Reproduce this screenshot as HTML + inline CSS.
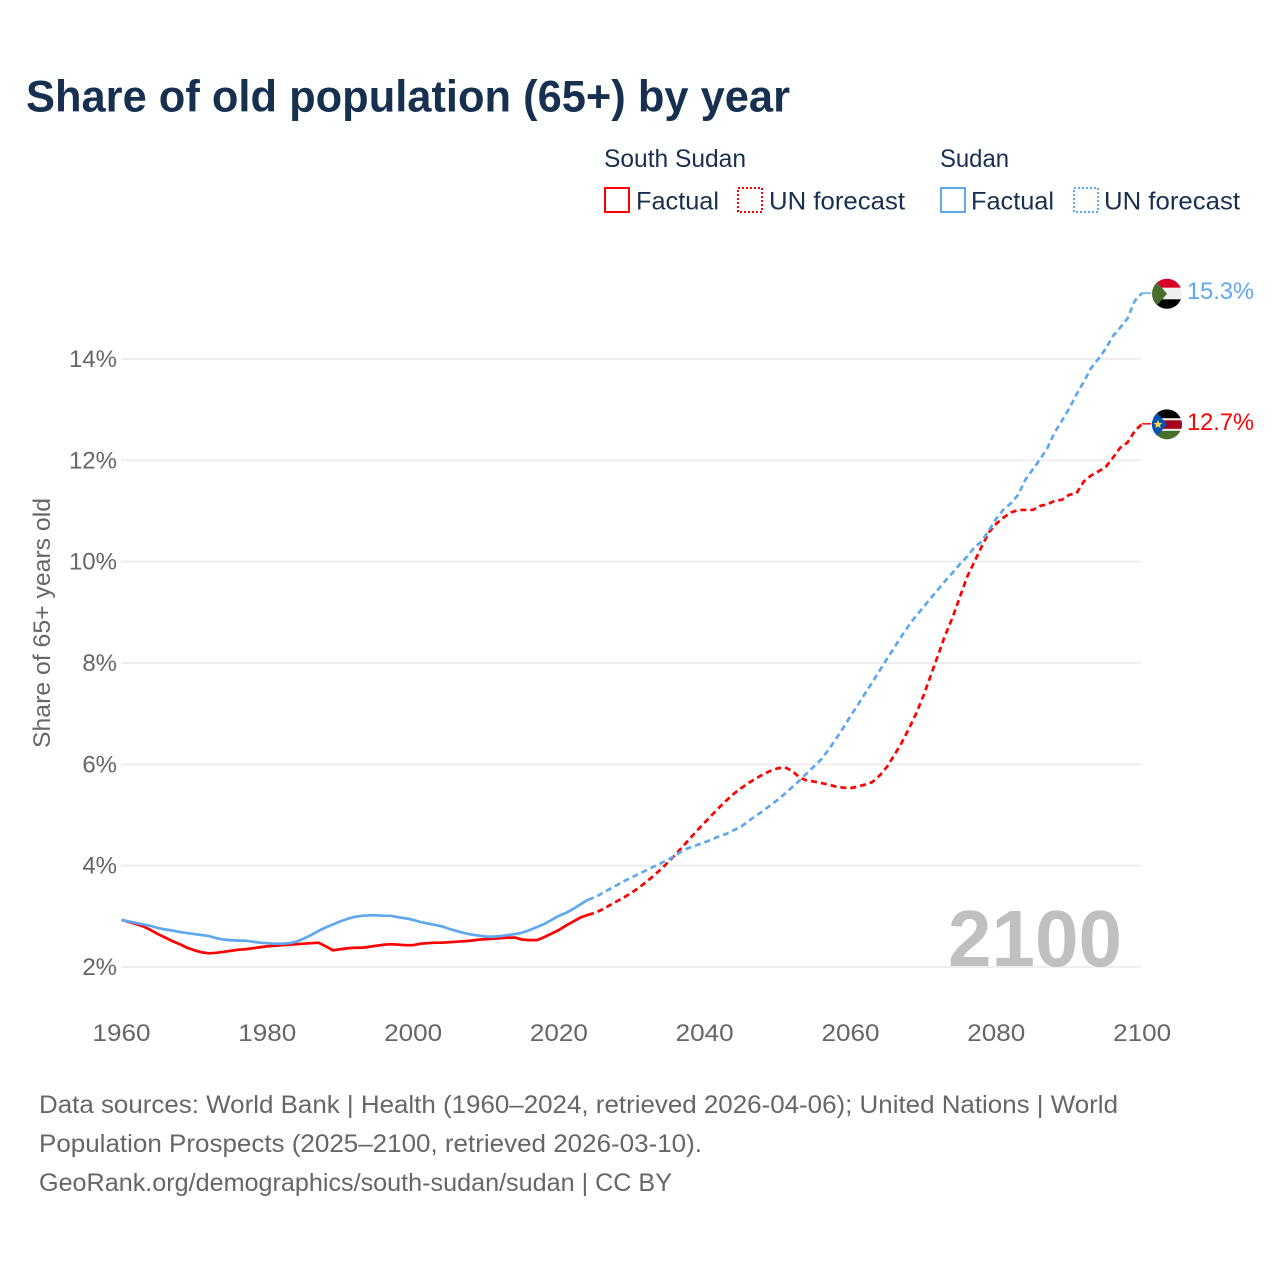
<!DOCTYPE html>
<html lang="en">
<head>
<meta charset="utf-8">
<title>Share of old population (65+) by year</title>
<style>
html,body{margin:0;padding:0;background:#fff;}
svg{display:block;font-family:"Liberation Sans",sans-serif;}
</style>
</head>
<body>
<svg id="chart" xmlns="http://www.w3.org/2000/svg" width="1280" height="1280" viewBox="0 0 1280 1280">
  <rect x="0" y="0" width="1280" height="1280" fill="#fff"/>
  <text x="26" y="111.5" font-size="44.5" font-weight="700" fill="#18304f" textLength="764" lengthAdjust="spacingAndGlyphs">Share of old population (65+) by year</text>

  <g font-size="25" fill="#18304f">
    <text x="604" y="167" textLength="142" lengthAdjust="spacingAndGlyphs">South Sudan</text>
    <text x="940" y="167" textLength="69" lengthAdjust="spacingAndGlyphs">Sudan</text>
    <rect x="605" y="188" width="24" height="24" fill="none" stroke="#ff0000" stroke-width="2"/>
    <text x="636" y="209.5" textLength="83" lengthAdjust="spacingAndGlyphs">Factual</text>
    <rect x="738" y="188" width="24" height="24" fill="none" stroke="#ff0000" stroke-width="2" stroke-dasharray="2 2"/>
    <text x="769" y="209.5" textLength="136" lengthAdjust="spacingAndGlyphs">UN forecast</text>
    <rect x="941" y="188" width="24" height="24" fill="none" stroke="#5fa8ee" stroke-width="2"/>
    <text x="971" y="209.5" textLength="83" lengthAdjust="spacingAndGlyphs">Factual</text>
    <rect x="1074" y="188" width="24" height="24" fill="none" stroke="#5fa8ee" stroke-width="2" stroke-dasharray="2 2"/>
    <text x="1104" y="209.5" textLength="136" lengthAdjust="spacingAndGlyphs">UN forecast</text>
  </g>

  <g id="grid"></g>
  <text x="948" y="966" font-size="80" font-weight="700" fill="#c0c0c0" textLength="174" lengthAdjust="spacingAndGlyphs">2100</text>
  <g id="yLabels" font-size="24" fill="#666"></g>
  <g id="xLabels" font-size="24" fill="#666"></g>
  <text transform="translate(50,748) rotate(-90)" font-size="24" fill="#666" textLength="250" lengthAdjust="spacingAndGlyphs">Share of 65+ years old</text>
  <g id="series"></g>

  <defs>
    <clipPath id="clipSudan"><circle cx="1167" cy="292.5" r="15"/></clipPath>
    <clipPath id="clipSouth"><circle cx="1167" cy="424.5" r="15"/></clipPath>
  </defs>
  <g id="flagSudan" clip-path="url(#clipSudan)">
    <rect x="1151" y="277" width="32" height="9.5" fill="#d80027"/>
    <rect x="1151" y="286.5" width="32" height="11.5" fill="#f0f0f0"/>
    <rect x="1151" y="298" width="32" height="10" fill="#000"/>
    <polygon points="1151,275 1152,275 1167,292.5 1152,310 1151,310" fill="#496e2d"/>
  </g>
  <g id="flagSouth" clip-path="url(#clipSouth)">
    <rect x="1151" y="409" width="32" height="9.5" fill="#000"/>
    <rect x="1151" y="418.5" width="32" height="12.5" fill="#f0f0f0"/>
    <rect x="1151" y="420.5" width="32" height="8.5" fill="#a2001d"/>
    <rect x="1151" y="431" width="32" height="9" fill="#496e2d"/>
    <polygon points="1151,407 1152,407 1167,424.5 1152,442 1151,442" fill="#0052b4"/>
    <polygon points="1158,420 1159.2,423 1162.4,423.2 1160,425.2 1160.8,428.3 1158,426.6 1155.2,428.3 1156,425.2 1153.6,423.2 1156.8,423" fill="#ffda44"/>
  </g>
  <g id="endLabels" font-size="24"></g>

  <g font-size="25" fill="#666">
    <text x="39" y="1113" textLength="1079" lengthAdjust="spacingAndGlyphs">Data sources: World Bank | Health (1960–2024, retrieved 2026-04-06); United Nations | World</text>
    <text x="39" y="1152" textLength="663" lengthAdjust="spacingAndGlyphs">Population Prospects (2025–2100, retrieved 2026-03-10).</text>
    <text x="39" y="1191" textLength="633" lengthAdjust="spacingAndGlyphs">GeoRank.org/demographics/south-sudan/sudan | CC BY</text>
  </g>
</svg>
<script>
var yTicks = [2, 4, 6, 8, 10, 12, 14];
var xTicks = [1960, 1980, 2000, 2020, 2040, 2060, 2080, 2100];
var factualStartYear = 1960;
var forecastStartYear = 2024;

var southSudanFactual = [
  2.93,2.89,2.85,2.80,2.73,2.65,2.58,2.51,2.45,2.38,
  2.33,2.29,2.27,2.28,2.30,2.32,2.34,2.35,2.37,2.39,
  2.41,2.42,2.43,2.44,2.45,2.46,2.47,2.48,2.41,2.33,
  2.35,2.37,2.38,2.38,2.40,2.42,2.44,2.45,2.44,2.43,
  2.43,2.46,2.47,2.48,2.48,2.49,2.50,2.51,2.52,2.54,
  2.55,2.56,2.57,2.58,2.58,2.54,2.53,2.53,2.59,2.66,
  2.73,2.82,2.90,2.98,3.03
];
var sudanFactual = [
  2.93,2.90,2.87,2.84,2.81,2.77,2.74,2.72,2.69,2.67,
  2.65,2.63,2.61,2.57,2.54,2.53,2.52,2.52,2.50,2.48,
  2.47,2.46,2.46,2.47,2.50,2.56,2.63,2.71,2.78,2.84,
  2.90,2.95,2.99,3.01,3.02,3.02,3.01,3.01,2.98,2.96,
  2.93,2.89,2.86,2.83,2.80,2.75,2.71,2.67,2.64,2.62,
  2.60,2.60,2.61,2.63,2.65,2.68,2.73,2.79,2.85,2.93,
  3.01,3.07,3.15,3.24,3.33
];
var southSudanForecast = [
  3.03,3.07,3.14,3.22,3.30,3.38,
  3.47,3.57,3.68,3.80,3.93,4.07,4.22,4.38,4.54,4.70,
  4.85,5.00,5.15,5.29,5.42,5.53,5.63,5.72,5.80,5.87,
  5.92,5.94,5.87,5.74,5.68,5.66,5.63,5.60,5.56,5.54,
  5.53,5.56,5.60,5.65,5.78,5.95,6.18,6.42,6.70,7.00,
  7.35,7.75,8.15,8.55,8.90,9.30,9.70,10.00,10.30,10.58,
  10.75,10.87,10.97,11.02,11.02,11.02,11.10,11.13,11.20,11.22,
  11.32,11.35,11.58,11.70,11.78,11.87,12.05,12.25,12.35,12.58,
  12.72
];
var sudanForecast = [
  3.33,3.38,3.46,3.54,3.62,3.70,
  3.77,3.84,3.91,3.98,4.05,4.12,4.20,4.30,4.36,4.41,
  4.46,4.52,4.58,4.63,4.70,4.77,4.88,4.98,5.08,5.19,
  5.30,5.42,5.55,5.68,5.82,5.96,6.10,6.29,6.50,6.72,
  6.95,7.17,7.40,7.62,7.85,8.08,8.30,8.53,8.74,8.93,
  9.10,9.28,9.45,9.62,9.78,9.95,10.10,10.28,10.40,10.62,
  10.85,11.03,11.15,11.32,11.62,11.82,12.02,12.24,12.55,12.78,
  13.02,13.30,13.55,13.82,14.00,14.20,14.45,14.62,14.80,15.15,
  15.30
];

var NS = 'http://www.w3.org/2000/svg';
var RED = '#ff0000';
var BLUE = '#5fa8ee';
function xScale(year) { return 121.5 + (year - 1960) * 7.29; }
function yScale(value) { return 967 - (value - 2) * 50.67; }
function make(tag, parentId) {
  var el = document.createElementNS(NS, tag);
  document.getElementById(parentId).appendChild(el);
  return el;
}
function linePoints(values, startYear) {
  return values.map(function (v, i) {
    return xScale(startYear + i).toFixed(2) + ',' + yScale(v).toFixed(2);
  }).join(' ');
}

yTicks.forEach(function (t) {
  var line = make('line', 'grid');
  
  
  line.setAttribute('x1', 121);
  line.setAttribute('x2', 1141);
  line.setAttribute('y1', yScale(t));
  line.setAttribute('y2', yScale(t));
  line.setAttribute('stroke', '#eeeeee');
  line.setAttribute('stroke-width', 2);

  var label = make('text', 'yLabels');
  
  
  label.setAttribute('x', 117);
  label.setAttribute('y', yScale(t) + 8);
  label.setAttribute('text-anchor', 'end');
  label.textContent = t + '%';
});

xTicks.forEach(function (t) {
  var label = make('text', 'xLabels');
  
  
  label.setAttribute('x', xScale(t));
  label.setAttribute('y', 1041);
  label.setAttribute('text-anchor', 'middle');
  label.setAttribute('textLength', 58);
  label.setAttribute('lengthAdjust', 'spacingAndGlyphs');
  label.textContent = t;
});

function drawLine(values, startYear, color, dashed, nameKind) {
  var pl = make('polyline', 'series');
  if (nameKind === 'ss-factual') {
    
  } else if (nameKind === 'ss-forecast') {
    
  } else if (nameKind === 'su-factual') {
    
  } else {
    
  }
  
  pl.setAttribute('points', linePoints(values, startYear));
  pl.setAttribute('fill', 'none');
  pl.setAttribute('stroke', color);
  pl.setAttribute('stroke-width', 2.7);
  pl.setAttribute('stroke-linejoin', 'round');
  if (dashed) pl.setAttribute('stroke-dasharray', '6 4');
}
drawLine(southSudanForecast, forecastStartYear, RED, true, 'ss-forecast');
drawLine(southSudanFactual, factualStartYear, RED, false, 'ss-factual');
drawLine(sudanForecast, forecastStartYear, BLUE, true, 'su-forecast');
drawLine(sudanFactual, factualStartYear, BLUE, false, 'su-factual');

function lastOf(a) { return a[a.length - 1]; }

function endConnector(values, color) {
  var c = make('line', 'series');
  
  
  c.setAttribute('x1', xScale(2100));
  c.setAttribute('x2', xScale(2100) + 9);
  c.setAttribute('y1', yScale(lastOf(values)));
  c.setAttribute('y2', yScale(lastOf(values)));
  c.setAttribute('stroke', color);
  c.setAttribute('stroke-width', 1.5);
}
endConnector(southSudanForecast, RED);
endConnector(sudanForecast, BLUE);

function endLabel(values, color) {
  var t = make('text', 'endLabels');
  
  
  t.setAttribute('x', 1187);
  t.setAttribute('y', yScale(lastOf(values)) + 6);
  t.setAttribute('fill', color);
  t.setAttribute('textLength', 67);
  t.setAttribute('lengthAdjust', 'spacingAndGlyphs');
  t.textContent = lastOf(values).toFixed(1) + '%';
}
endLabel(southSudanForecast, RED);
endLabel(sudanForecast, BLUE);

function moveFlag(id, values, baseY) {
  var g = document.getElementById(id);
  var wrap = document.createElementNS(NS, 'g');
  g.parentNode.insertBefore(wrap, g);
  wrap.appendChild(g);
  wrap.setAttribute('transform', 'translate(0,' + (yScale(lastOf(values)) - baseY).toFixed(2) + ')');
}
moveFlag('flagSudan', sudanForecast, 291.8);
moveFlag('flagSouth', southSudanForecast, 424);
</script>
</body>
</html>
